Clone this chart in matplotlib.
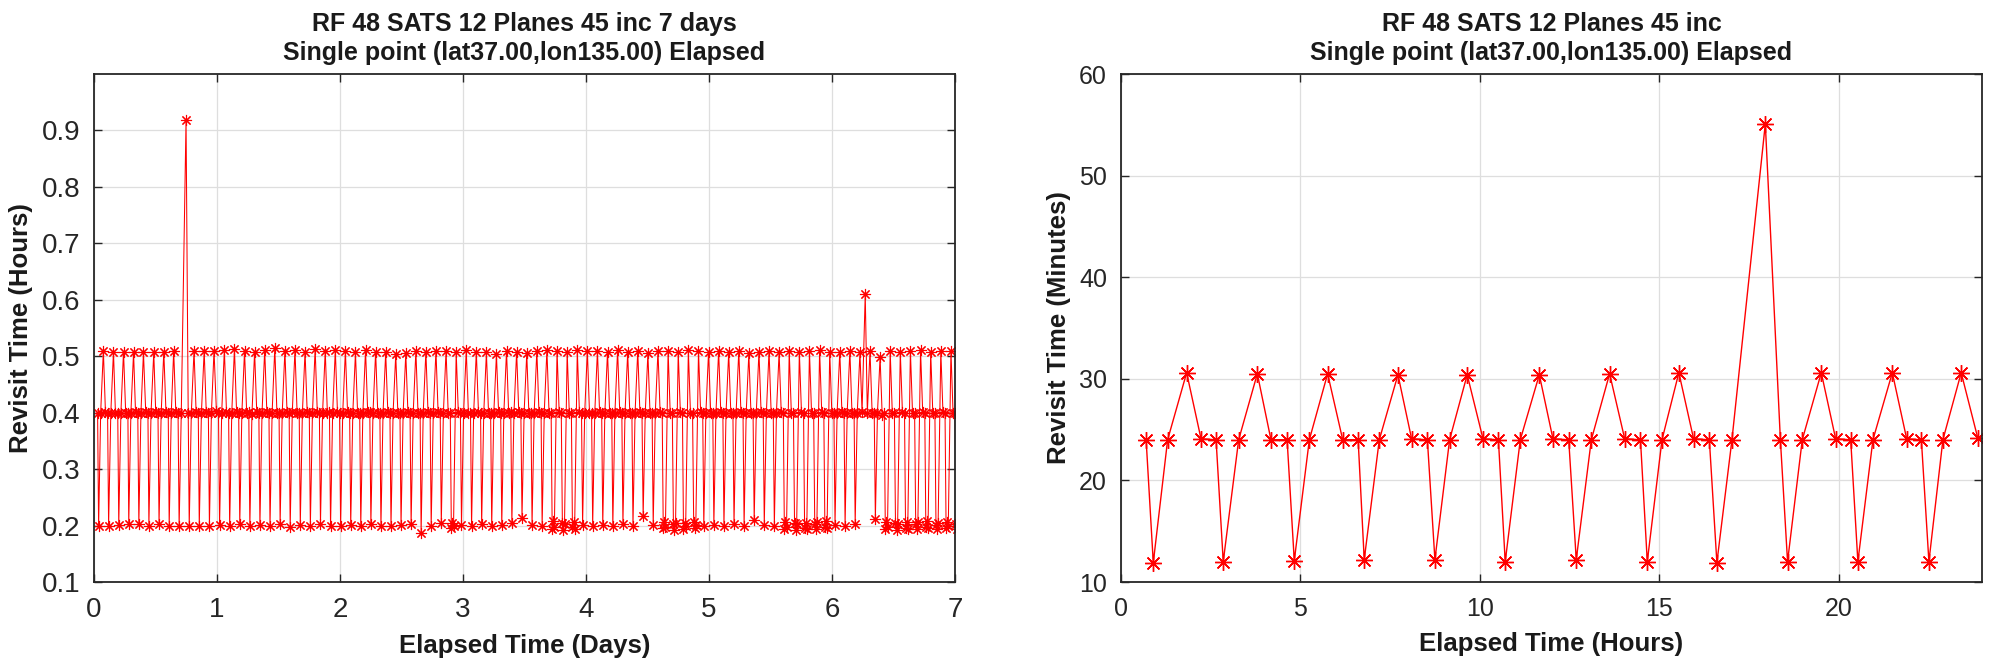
import numpy as np
import matplotlib
matplotlib.use("Agg")
import matplotlib.pyplot as plt

plt.rcParams['font.family'] = ['Liberation Sans', 'DejaVu Sans']

# ---------------- data ----------------
# Right panel: first 24 hours, revisit time (minutes) vs elapsed time (hours)
right_elapsed_hours = [0.70, 0.90, 1.30, 1.83, 2.23, 2.65, 2.85, 3.28, 3.80, 4.18,
                       4.63, 4.83, 5.25, 5.76, 6.18, 6.61, 6.78, 7.20, 7.72, 8.10,
                       8.54, 8.75, 9.16, 9.65, 10.09, 10.52, 10.71, 11.13, 11.66, 12.04,
                       12.48, 12.69, 13.11, 13.62, 14.04, 14.48, 14.67, 15.08, 15.55, 15.96,
                       16.40, 16.61, 17.03, 17.96, 18.38, 18.58, 18.99, 19.52, 19.92, 20.34,
                       20.54, 20.96, 21.50, 21.90, 22.31, 22.52, 22.91, 23.42, 23.88]
right_revisit_min = [24.0, 11.9, 24.0, 30.6, 24.1, 24.0, 12.0, 24.0, 30.5, 24.0,
                     24.0, 12.1, 24.0, 30.5, 24.0, 24.0, 12.2, 24.0, 30.4, 24.1,
                     24.0, 12.2, 24.0, 30.4, 24.1, 24.0, 12.0, 24.0, 30.4, 24.1,
                     24.0, 12.2, 24.0, 30.5, 24.1, 24.0, 12.0, 24.0, 30.6, 24.1,
                     24.0, 11.9, 24.0, 55.1, 24.0, 12.0, 24.0, 30.6, 24.1, 24.0,
                     12.0, 24.0, 30.6, 24.1, 24.0, 12.0, 24.0, 30.6, 24.2]

# Left panel: 7 days. Day 0 = right panel data; following days are the
# revisit gaps (minutes), in order of occurrence.
left_day1_min = [24.0, 12.1, 24.0, 30.7, 24.1, 24.0, 11.9, 24.0, 30.8, 24.1,
                 24.0, 12.2, 24.0, 30.6, 24.0, 24.1, 12.0, 23.9, 30.5, 24.1,
                 24.0, 12.1, 24.0, 30.7, 24.1, 24.0, 12.0, 24.0, 30.9, 24.0,
                 24.0, 12.2, 24.0, 30.6, 24.1, 24.0, 11.8, 24.1, 30.7, 24.0,
                 24.0, 12.1, 24.0, 30.5, 24.1, 24.0, 12.0, 24.0, 30.8, 24.1,
                 24.0, 12.2, 24.0, 30.6, 24.0, 24.1, 11.9, 24.0, 30.7, 24.1]
left_day2_min = [24.0, 12.0, 24.0, 30.6, 24.1, 24.0, 12.1, 24.0, 30.4, 24.0,
                 24.0, 12.0, 24.0, 30.7, 24.1, 24.1, 12.2, 24.0, 30.5, 24.0,
                 24.0, 11.9, 24.0, 30.4, 24.1, 24.0, 12.0, 24.0, 30.2, 24.0,
                 24.0, 12.1, 24.0, 30.3, 24.1, 24.0, 12.2, 24.0, 30.6, 24.0,
                 24.0, 11.2, 24.0, 30.5, 24.1, 24.0, 12.0, 24.0, 30.6, 24.1,
                 24.0, 12.3, 24.0, 30.6, 24.0, 24.0, 11.7, 12.3, 11.9, 30.5, 24.1,
                 24.0, 12.1, 24.0, 30.7, 24.0]
left_day3_min = [24.0, 12.0, 24.0, 30.5, 24.1, 24.0, 12.2, 24.0, 30.4, 24.0,
                 24.0, 12.0, 24.0, 30.2, 24.1, 24.0, 12.1, 24.0, 30.6, 24.0,
                 24.1, 12.3, 24.0, 30.5, 24.1, 24.0, 12.8, 24.0, 30.3, 24.0,
                 24.0, 12.1, 24.0, 30.6, 24.1, 24.0, 12.0, 24.0, 30.7, 24.0,
                 24.0, 11.6, 12.5, 11.8, 30.6, 24.1, 24.0, 12.3, 11.5, 12.2, 30.5, 24.0,
                 24.0, 11.8, 12.4, 11.6, 30.7, 24.1, 24.0, 12.1, 24.0, 30.6, 24.0]
left_day4_min = [24.0, 12.0, 24.0, 30.6, 24.1, 24.0, 12.1, 24.0, 30.5, 24.0,
                 24.0, 12.0, 24.0, 30.7, 24.1, 24.0, 12.2, 24.0, 30.4, 24.0,
                 24.0, 12.0, 24.0, 30.6, 24.1, 24.0, 13.0, 24.0, 30.3, 24.0,
                 24.0, 12.1, 24.0, 30.6, 24.1,
                 24.0, 11.7, 12.4, 11.8, 30.6, 24.0, 24.0, 12.2, 11.5, 12.3, 30.5, 24.1,
                 24.0, 11.6, 12.3, 11.9, 30.7, 24.0, 24.0, 12.4, 11.7, 12.1, 30.6, 24.1,
                 24.0, 12.0, 24.0, 30.5, 24.0]
left_day5_min = [24.0, 12.1, 24.0, 30.6, 24.1, 24.0, 12.0, 24.0, 30.4, 24.0,
                 24.0, 12.2, 24.0, 30.6, 24.1, 24.0, 12.0, 24.0, 30.3, 24.0,
                 24.0, 12.6, 24.0, 30.5, 24.1, 24.0, 12.1, 24.0, 30.6, 24.0,
                 24.0, 12.0, 24.0, 30.4, 24.1,
                 24.0, 11.6, 12.4, 11.8, 30.6, 24.0, 24.0, 12.3, 11.5, 12.2, 30.5, 24.1,
                 24.0, 11.7, 12.3, 11.6, 30.6, 24.0, 24.0, 12.2, 11.6, 12.4, 30.7, 24.1,
                 24.0, 11.8, 12.5, 11.7, 30.5, 24.0]
left_day6_min = [24.0, 12.1, 24.0, 30.5, 24.1, 24.0, 12.0, 24.0, 30.6, 24.0,
                 24.0, 12.2, 24.0, 30.4, 24.1, 36.6, 24.0, 30.6, 24.0,
                 24.0, 12.7, 24.0, 29.9, 23.8,
                 24.0, 11.6, 12.4, 11.8, 30.6, 24.0, 24.0, 12.3, 11.5, 12.2, 30.5, 24.1,
                 24.0, 11.7, 12.4, 11.6, 30.6, 24.0, 24.0, 12.2, 11.6, 12.4, 30.7, 24.1,
                 24.0, 11.8, 12.5, 11.7, 30.5, 24.0, 24.0, 12.1, 11.6, 12.3, 30.6, 24.1,
                 24.0, 11.7, 12.4, 11.9, 30.6, 24.0, 24.0, 12.2, 11.6, 12.3, 30.5, 24.1]
pass_duration_min = 0.66   # access duration added between successive revisits

# ---------------- derived series ----------------
later_gaps = np.array(left_day1_min + left_day2_min + left_day3_min +
                      left_day4_min + left_day5_min + left_day6_min)
later_elapsed_h = right_elapsed_hours[-1] + np.cumsum(later_gaps + pass_duration_min) / 60.0
left_x_days = np.concatenate([np.array(right_elapsed_hours), later_elapsed_h]) / 24.0
left_y_hours = np.concatenate([np.array(right_revisit_min), later_gaps]) / 60.0

# ---------------- figure ----------------
W, H = 1992, 660
fig = plt.figure(figsize=(W / 100, H / 100), dpi=100)
axL = fig.add_axes([94 / W, 78 / H, 861 / W, 508 / H])
axR = fig.add_axes([1121 / W, 78 / H, 861 / W, 508 / H])

asterisk = (8, 2, 0)
axL.plot(left_x_days, left_y_hours, color='red', lw=0.75, marker=asterisk,
         ms=8, mew=0.8, solid_joinstyle='miter')
axR.plot(right_elapsed_hours, right_revisit_min, color='red', lw=1.0,
         marker=asterisk, ms=12, mew=1.0)

axL.set_xlim(0, 7)
axL.set_ylim(0.1, 1.0)
axL.set_xticks(range(0, 8))
axL.set_yticks([0.1, 0.2, 0.3, 0.4, 0.5, 0.6, 0.7, 0.8, 0.9])
axL.set_yticklabels(['0.1', '0.2', '0.3', '0.4', '0.5', '0.6', '0.7', '0.8', '0.9'])

axR.set_xlim(0, 24)
axR.set_ylim(10, 60)
axR.set_xticks([0, 5, 10, 15, 20])
axR.set_yticks([10, 20, 30, 40, 50, 60])

titles = ["RF 48 SATS 12 Planes 45 inc 7 days\nSingle point (lat37.00,lon135.00) Elapsed",
          "RF 48 SATS 12 Planes 45 inc\nSingle point (lat37.00,lon135.00) Elapsed"]
xlabels = ["Elapsed Time (Days)", "Elapsed Time (Hours)"]
ylabels = ["Revisit Time (Hours)", "Revisit Time (Minutes)"]
ticksizes = [20, 18]

for ax, t, xl, yl, ts in zip([axL, axR], titles, xlabels, ylabels, ticksizes):
    ax.grid(True, color='#dedede', lw=0.9)
    ax.set_axisbelow(True)
    ax.tick_params(direction='in', length=6, width=1.0, top=True, right=True,
                   labelsize=ts, color='#262626', labelcolor='#262626')
    ax.tick_params(axis='x', pad=11)
    ax.tick_params(axis='y', pad=10)
    for s in ax.spines.values():
        s.set_color('#262626')
        s.set_linewidth(1.3)
    ax.set_title(t, fontsize=18, fontweight='bold', pad=10, linespacing=1.25,
                 color='#1a1a1a')
    ax.set_xlabel(xl, fontsize=18.5, fontweight='bold', labelpad=8, color='#1a1a1a')
    ax.set_ylabel(yl, fontsize=18.5, fontweight='bold', labelpad=6, color='#1a1a1a')

fig.savefig("out.png", dpi=100)
